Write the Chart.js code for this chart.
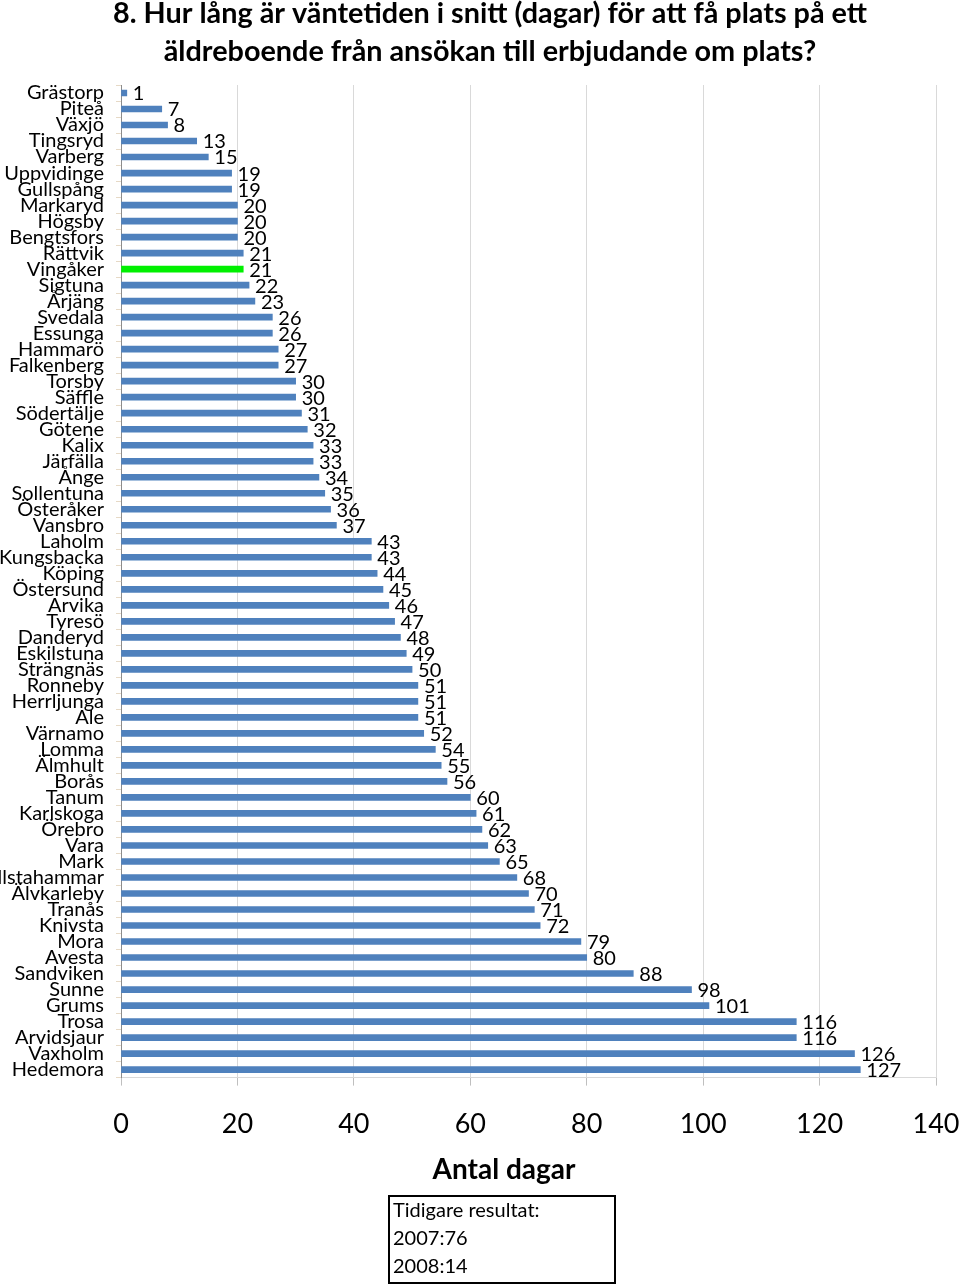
<!DOCTYPE html>
<html lang="sv">
<head>
<meta charset="UTF-8" />
<title>Väntetid äldreboende</title>
<script src="https://cdn.jsdelivr.net/npm/chart.js"></script>
<style>
  html, body { margin: 0; padding: 0; background: #fff; }
  canvas { display: block; }
</style>
</head>
<body>
<canvas id="chart" width="960" height="1287"></canvas>
<script>
const kommuner = ['Grästorp','Piteå','Växjö','Tingsryd','Varberg','Uppvidinge','Gullspång','Markaryd','Högsby','Bengtsfors','Rättvik','Vingåker','Sigtuna','Årjäng','Svedala','Essunga','Hammarö','Falkenberg','Torsby','Säffle','Södertälje','Götene','Kalix','Järfälla','Ånge','Sollentuna','Österåker','Vansbro','Laholm','Kungsbacka','Köping','Östersund','Arvika','Tyresö','Danderyd','Eskilstuna','Strängnäs','Ronneby','Herrljunga','Ale','Värnamo','Lomma','Älmhult','Borås','Tanum','Karlskoga','Örebro','Vara','Mark','Hallstahammar','Älvkarleby','Tranås','Knivsta','Mora','Avesta','Sandviken','Sunne','Grums','Trosa','Arvidsjaur','Vaxholm','Hedemora'];
const dagar = [1,7,8,13,15,19,19,20,20,20,21,21,22,23,26,26,27,27,30,30,31,32,33,33,34,35,36,37,43,43,44,45,46,47,48,49,50,51,51,51,52,54,55,56,60,61,62,63,65,68,70,71,72,79,80,88,98,101,116,116,126,127];
const markerad = 'Vingåker';
const xTicks = [0,20,40,60,80,100,120,140];
const titel = ['8. Hur lång är väntetiden i snitt (dagar) för att få plats på ett', 'äldreboende från ansökan till erbjudande om plats?'];
const axelTitel = 'Antal dagar';
const tidigare = ['Tidigare resultat:', '2007:76', '2008:14'];

const FONT = 'Lato, "Open Sans", sans-serif';

// value labels at the end of each bar
const valueLabels = {
  id: 'valueLabels',
  afterDatasetsDraw(chart) {
    const ctx = chart.ctx;
    const meta = chart.getDatasetMeta(0);
    ctx.save();
    ctx.font = '20px ' + FONT;
    ctx.fillStyle = '#000';
    ctx.textBaseline = 'middle';
    ctx.textAlign = 'left';
    meta.data.forEach((bar, i) => {
      ctx.fillText(String(dagar[i]), bar.x + 6, bar.y + 1);
    });
    ctx.restore();
  }
};

// chart title, axis title and the box with earlier results
const texts = {
  id: 'texts',
  afterDraw(chart) {
    const ctx = chart.ctx;
    ctx.save();
    ctx.fillStyle = '#000';
    ctx.textBaseline = 'middle';
    ctx.textAlign = 'center';
    ctx.font = 'bold 28.8px ' + FONT;
    ctx.fillText(titel[0], 490, 14);
    ctx.fillText(titel[1], 490, 52);
    ctx.font = 'bold 28px ' + FONT;
    ctx.fillText(axelTitel, 504, 1170);

    ctx.strokeStyle = '#000';
    ctx.lineWidth = 2;
    ctx.strokeRect(389, 1196, 226, 87);
    ctx.font = '20px ' + FONT;
    ctx.textAlign = 'left';
    tidigare.forEach((t, i) => ctx.fillText(t, 393, 1211 + i * 28));
    ctx.restore();
  }
};

new Chart(document.getElementById('chart'), {
  type: 'bar',
  data: {
    labels: kommuner,
    datasets: [{
      data: dagar,
      backgroundColor: kommuner.map(k => k === markerad ? '#00f000' : '#4f81bd'),
      barThickness: 6,
      borderWidth: 0
    }]
  },
  options: {
    indexAxis: 'y',
    responsive: false,
    animation: false,
    layout: { padding: { left: 0, right: 0, top: 85, bottom: 125 } },
    plugins: {
      legend: { display: false },
      tooltip: { enabled: false },
      title: { display: false }
    },
    scales: {
      x: {
        min: 0, max: 140,
        afterBuildTicks(scale) { scale.ticks = xTicks.map(v => ({ value: v })); },
        afterFit(scale) { scale.paddingLeft = 0; scale.paddingRight = 24; },
        grid: { color: '#d9d9d9', tickLength: 8, tickColor: '#bfbfbf' },
        border: { color: '#d9d9d9' },
        ticks: { color: '#000', padding: 22, font: { family: FONT, size: 27 } }
      },
      y: {
        afterFit(scale) { scale.width = 121; },
        grid: { display: true, drawOnChartArea: false, offset: true, tickLength: 5, tickColor: '#e6d9c6' },
        border: { color: '#8c8c8c' },
        ticks: { color: '#000', padding: 12, autoSkip: false, font: { family: FONT, size: 20 } }
      }
    }
  },
  plugins: [valueLabels, texts]
});
</script>
</body>
</html>
